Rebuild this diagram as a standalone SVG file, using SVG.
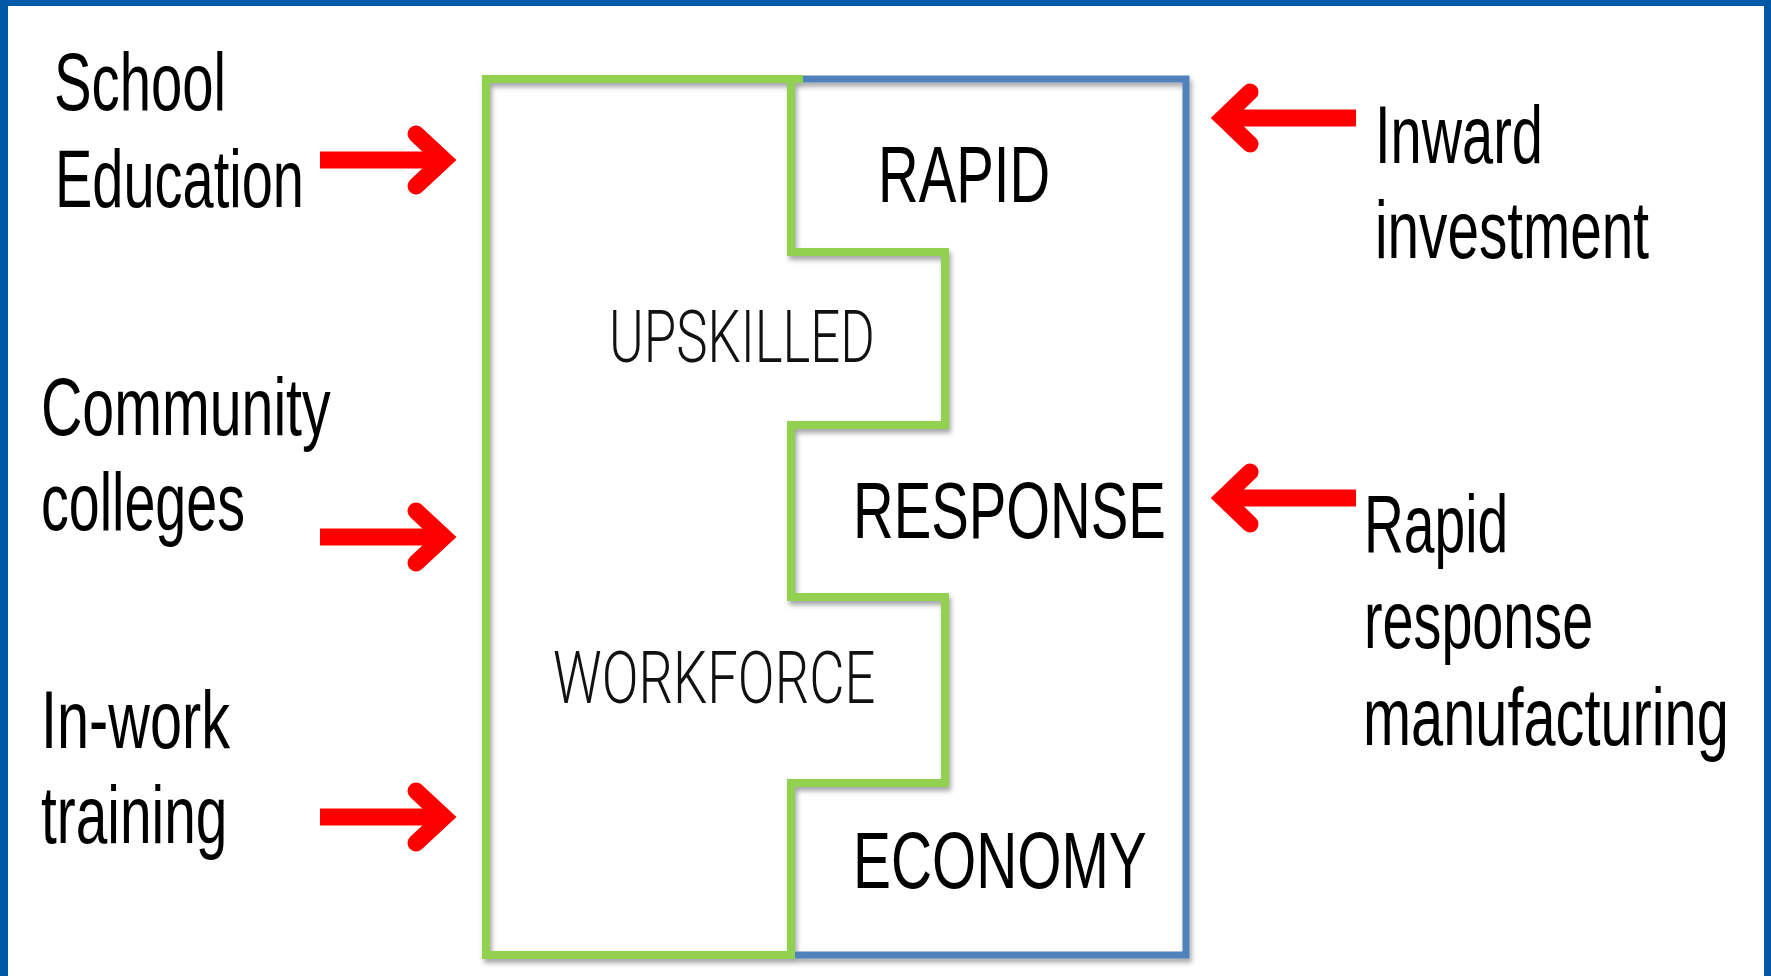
<svg xmlns="http://www.w3.org/2000/svg" width="1771" height="976" viewBox="0 0 1771 976">
<style>
.lbl{font-family:"Liberation Sans",Arial,sans-serif;font-size:82px;fill:#000}
.big{font-family:"Liberation Sans",Arial,sans-serif;font-size:80px;fill:#000}
.thin{font-family:Roboto,"Liberation Sans",sans-serif;font-weight:300;font-size:73px;fill:#111}
.arrow{fill:none;stroke:#FF0000;stroke-width:17}
.shaft{stroke-linecap:butt}
.head{stroke-linecap:round;stroke-linejoin:miter;stroke-miterlimit:10}
</style>
<defs>
<filter id="sh" x="-5%" y="-5%" width="110%" height="110%">
<feDropShadow dx="2" dy="4" stdDeviation="2.5" flood-color="#000" flood-opacity="0.35"/>
</filter>
</defs>
<rect x="0" y="0" width="1771" height="976" fill="#0059A6"/>
<rect x="8" y="6" width="1756" height="970" fill="#FFFFFF"/>

<g id="blocks" filter="url(#sh)">
<g id="economy-block">
<path d="M791 79 H1186 V955 H791" fill="none" stroke="#4F81BD" stroke-width="7" stroke-linejoin="miter"/>
</g>
<g id="workforce-block">
<path d="M486 79 H791 V252 H945 V425 H791 V597 H945 V783 H791 V955 H486 Z" fill="none" stroke="#92D050" stroke-width="8" stroke-linejoin="miter"/>
<line x1="786" y1="79" x2="803" y2="79" stroke="#92D050" stroke-width="8"/>
</g>
</g>

<g id="block-labels">
<text class="big" transform="translate(878 202) scale(0.68 1)" textLength="253" lengthAdjust="spacingAndGlyphs">RAPID</text>
<text class="thin" transform="translate(609 362) scale(0.68 1)" textLength="391" lengthAdjust="spacingAndGlyphs">UPSKILLED</text>
<text class="big" transform="translate(853 538) scale(0.68 1)" textLength="460" lengthAdjust="spacingAndGlyphs">RESPONSE</text>
<text class="thin" transform="translate(553 703) scale(0.68 1)" textLength="474" lengthAdjust="spacingAndGlyphs">WORKFORCE</text>
<text class="big" transform="translate(853 888) scale(0.68 1)" textLength="432" lengthAdjust="spacingAndGlyphs">ECONOMY</text>
</g>

<g id="school-education">
<text class="lbl" transform="translate(54 110) scale(0.68 1)" textLength="253" lengthAdjust="spacingAndGlyphs">School</text>
<text class="lbl" transform="translate(55 207) scale(0.68 1)" textLength="366" lengthAdjust="spacingAndGlyphs">Education</text>
</g>
<g id="community-colleges">
<text class="lbl" transform="translate(41 435) scale(0.68 1)" textLength="426" lengthAdjust="spacingAndGlyphs">Community</text>
<text class="lbl" transform="translate(41 530) scale(0.68 1)" textLength="300" lengthAdjust="spacingAndGlyphs">colleges</text>
</g>
<g id="in-work-training">
<text class="lbl" transform="translate(41 748) scale(0.68 1)" textLength="278" lengthAdjust="spacingAndGlyphs">In-work</text>
<text class="lbl" transform="translate(41 843) scale(0.68 1)" textLength="274" lengthAdjust="spacingAndGlyphs">training</text>
</g>
<g id="inward-investment">
<text class="lbl" transform="translate(1375 163) scale(0.68 1)" textLength="247" lengthAdjust="spacingAndGlyphs">Inward</text>
<text class="lbl" transform="translate(1375 258) scale(0.68 1)" textLength="403" lengthAdjust="spacingAndGlyphs">investment</text>
</g>
<g id="rapid-response-manufacturing">
<text class="lbl" transform="translate(1364 552) scale(0.68 1)" textLength="212" lengthAdjust="spacingAndGlyphs">Rapid</text>
<text class="lbl" transform="translate(1364 648) scale(0.68 1)" textLength="337" lengthAdjust="spacingAndGlyphs">response</text>
<text class="lbl" transform="translate(1363 745) scale(0.68 1)" textLength="538" lengthAdjust="spacingAndGlyphs">manufacturing</text>
</g>

<g id="connectors">
<g class="arrow">
<line class="shaft" x1="320" y1="160" x2="444" y2="160"/>
<polyline class="head" points="416,134 444,160 416,186"/>
<line class="shaft" x1="320" y1="537" x2="444" y2="537"/>
<polyline class="head" points="416,511 444,537 416,563"/>
<line class="shaft" x1="320" y1="817" x2="444" y2="817"/>
<polyline class="head" points="416,791 444,817 416,843"/>
<line class="shaft" x1="1356" y1="118" x2="1223" y2="118"/>
<polyline class="head" points="1250,92 1223,118 1250,144"/>
<line class="shaft" x1="1356" y1="498" x2="1223" y2="498"/>
<polyline class="head" points="1250,472 1223,498 1250,524"/>
</g>
</g>
</svg>
